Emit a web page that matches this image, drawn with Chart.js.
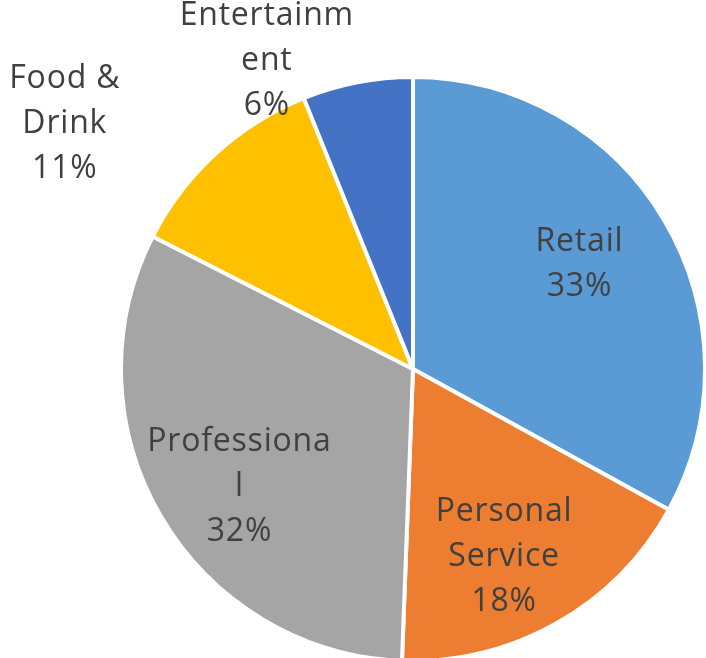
<!DOCTYPE html>
<html>
<head>
<meta charset="utf-8">
<script src="https://cdn.jsdelivr.net/npm/chart.js@4/dist/chart.umd.min.js"></script>
<style>
  html, body { margin: 0; padding: 0; background: #fff; }
  #wrap { width: 706px; height: 658px; position: relative; }
</style>
</head>
<body>
<div id="wrap"><canvas id="chart"></canvas></div>
<script>
// data (share of businesses, %)
const categories = ['Retail', 'Personal Service', 'Professional', 'Food & Drink', 'Entertainment'];
const shares = [33.0, 17.6, 31.9, 11.4, 6.1];
// category text as it wraps in the picture
const labelLines = [['Retail'], ['Personal', 'Service'], ['Professiona', 'l'], ['Food &', 'Drink'], ['Entertainm', 'ent']];
const colors = ['#5B9BD5', '#ED7D31', '#A5A5A5', '#FFC000', '#4472C4'];

// where each label sits: distance from centre (x outer radius) and turn from mid angle (deg)
const labelPlace = [
  { dist: 0.673, turn: -1.5 },
  { dist: 0.716, turn: 3.7 },
  { dist: 0.718, turn: -3.7 },
  { dist: 1.458, turn: -12.4 },
  { dist: 1.168, turn: -14.4 }
];

const sliceLabels = {
  id: 'sliceLabels',
  afterDatasetsDraw(chart) {
    const ctx = chart.ctx;
    const meta = chart.getDatasetMeta(0);
    const total = shares.reduce((a, b) => a + b, 0);
    ctx.save();
    ctx.font = '32px "Open Sans"';
    ctx.letterSpacing = '0.8px';
    ctx.fillStyle = '#404040';
    ctx.textAlign = 'center';
    ctx.textBaseline = 'middle';
    meta.data.forEach((arc, i) => {
      const p = arc.getProps(['x', 'y', 'startAngle', 'endAngle', 'outerRadius'], true);
      const mid = (p.startAngle + p.endAngle) / 2 + labelPlace[i].turn * Math.PI / 180;
      const r = p.outerRadius * labelPlace[i].dist;
      const cx = p.x + Math.cos(mid) * r;
      const cy = p.y + Math.sin(mid) * r;
      const lines = labelLines[i].concat([Math.round(shares[i] / total * 100) + '%']);
      const lh = 45;
      const top = cy - (lines.length - 1) * lh / 2;
      lines.forEach((t, k) => ctx.fillText(t, cx, top + k * lh));
    });
    ctx.restore();
  }
};

new Chart(document.getElementById('chart'), {
  type: 'pie',
  data: {
    labels: categories,
    datasets: [{
      data: shares,
      backgroundColor: colors,
      borderColor: '#ffffff',
      borderWidth: 4
    }]
  },
  options: {
    responsive: true,
    maintainAspectRatio: false,
    animation: false,
    radius: 292,
    layout: { padding: { left: 123, right: 3, top: 80, bottom: 0 } },
    plugins: {
      legend: { display: false },
      tooltip: { enabled: false }
    }
  },
  plugins: [sliceLabels]
});
</script>
</body>
</html>
